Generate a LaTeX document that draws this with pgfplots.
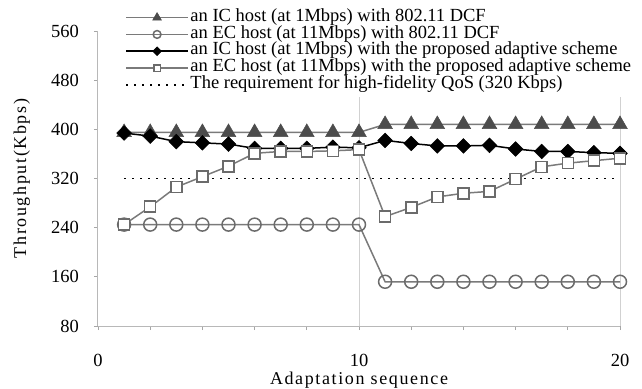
\documentclass[border=0pt]{standalone}
\usepackage{fontspec}
\setmainfont{Liberation Serif}
\newfontfamily\spaced[LetterSpace=9]{Liberation Serif}
\usepackage{pgfplots}
\pgfplotsset{compat=1.18}
\pgfplotstableread{
x icdcf ecdcf icad ecad
1 395 245 394 245
2 395 245 389 274
3 395 245 380 306
4 395 245 378 323
5 395 245 376 340
6 395 245 369 361
7 395 245 369 364
8 395 245 369 364
9 395 245 371 365
10 395 245 370 367
11 408 152 382 258
12 408 152 377 273
13 408 152 373 290
14 408 152 373 296
15 408 152 374 299
16 408 152 368 319
17 408 152 364 339
18 408 152 364 345
19 408 152 362 349
20 408 152 361 353
}\datatab
\usepackage{pgfplotstable}
\begin{document}
\fontsize{18bp}{20bp}\selectfont
\begin{tikzpicture}
\begin{axis}[name=ax, scale only axis, width=522bp, height=295bp,
 xmin=0, xmax=20, ymin=80, ymax=560,
 axis x line=bottom, axis y line=left,
 axis line style={-, draw=black!28, line width=1bp},
 xtick={0,2,...,20}, xticklabels={0,,,,,10,,,,,20},
 ytick={80,160,...,560},
 tick align=outside, major tick length=4bp,
 tick style={draw=black!35, line width=0.8bp},
 /pgf/number format/assume math mode=true,
 ticklabel style={font=\fontsize{18.5bp}{20bp}\selectfont},
 xticklabel style={inner ysep=0bp, yshift=-24bp},
 yticklabel style={xshift=-9bp},
 extra x ticks={10,20}, extra x tick labels={},
 extra x tick style={grid=major, major tick length=0pt, major grid style={draw=black!18, line width=1bp}},
 xlabel={\spaced Adaptation sequence},
 xlabel style={at={(axis description cs:0.5,0)}, anchor=center, inner sep=0bp, yshift=-54bp},
 ylabel={\spaced Throughput(Kbps)},
 ylabel style={at={(axis description cs:-0.146,0.5)}, anchor=center},
 legend style={at={(axis description cs:0.0517,1.088)}, anchor=north west,
   draw=none, fill=white, inner xsep=0bp, inner ysep=4bp,
   font=\fontsize{18.5bp}{20bp}\selectfont,
   nodes={inner ysep=0bp, inner xsep=1.5bp, text height=12bp, text depth=4.8bp}},
 legend cell align=left,
 legend image code/.code={\draw[mark repeat=2,mark phase=2,#1,every mark/.append style={scale=0.6}] plot coordinates {(0bp,0bp) (31bp,0bp) (62bp,0bp)};},
]
\addplot[draw=black!52, line width=1.5bp, mark=triangle*, mark size=8.5bp, mark options={fill=black!70, draw=black!70, line width=0.5bp}] table[x=x,y=icdcf]{\datatab};
\addlegendentry{an IC host (at 1Mbps) with 802.11 DCF}
\addplot[draw=black!52, line width=1.5bp, mark=o, mark size=6.5bp, mark options={fill=white, draw=black!58, line width=1.5bp}] table[x=x,y=ecdcf]{\datatab};
\addlegendentry{an EC host (at 11Mbps) with 802.11 DCF}
\addplot[draw=black, line width=1.5bp, mark=square*, mark size=5.2bp, mark options={rotate=45, fill=black, draw=black, line width=0.5bp}] table[x=x,y=icad]{\datatab};
\addlegendentry{an IC host (at 1Mbps) with the proposed adaptive scheme}
\addplot[draw=black!52, line width=1.5bp, mark=square*, mark size=5.5bp, mark options={fill=white, draw=black!58, line width=1.6bp}] table[x=x,y=ecad]{\datatab};
\addlegendentry{an EC host (at 11Mbps) with the proposed adaptive scheme}
\addplot[draw=black, line width=1.8bp, dash pattern=on 2.2bp off 5.8bp, mark=none] coordinates {(1,320) (20,320)};
\addlegendentry{The requirement for high-fidelity QoS (320 Kbps)}
\end{axis}
\pgfresetboundingbox
\path[use as bounding box] ([xshift=-98bp,yshift=-63bp]ax.south west) rectangle ([xshift=22bp,yshift=31bp]ax.north east);
\end{tikzpicture}
\end{document}
